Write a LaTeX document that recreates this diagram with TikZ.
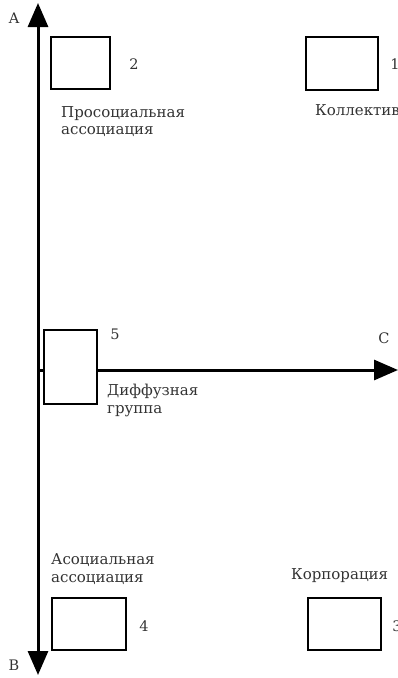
\documentclass[tikz,border=0pt]{standalone}
\usepackage{fontspec}
\setmainfont{DejaVu Serif}
\usetikzlibrary{arrows.meta}
\begin{document}
\begin{tikzpicture}[x=1pt,y=-1pt,
  axis/.style={line width=3pt,-{Triangle[width=20pt,length=24pt]}},
  groupbox/.style={draw,line width=1.8pt,minimum width=#1,inner sep=0pt},
  lbl/.style={font=\fontsize{15}{17.5}\selectfont,text=black!80,inner sep=0pt,align=left},
  num/.style={font=\fontsize{14.5}{16}\selectfont,text=black!80,inner sep=0pt}]
\useasboundingbox (0,0) rectangle (398,678);
% axes
\coordinate (top) at (38,3);
\coordinate (bot) at (38,675);
\coordinate (orig) at (38,370);
\coordinate (right) at (398,370);
\draw[axis] (orig) -- (top);
\draw[axis] (orig) -- (bot);
\draw[axis] (orig) -- (right);
\node[num] (A) at (14,18) {A};
\node[num] (B) at (14,665) {B};
\node[num] (C) at (384,338) {C};
% groups
\node[groupbox=59pt,minimum height=52pt] (b2) at (80.5,63) {};
\node[groupbox=72pt,minimum height=53pt] (b1) at (342,63.5) {};
\node[groupbox=53pt,minimum height=74pt,fill=white] (b5) at (70.5,367) {};
\node[groupbox=74pt,minimum height=52pt] (b4) at (89,624) {};
\node[groupbox=73pt,minimum height=52pt] (b3) at (344.5,624) {};
\node[num] (n2) at (134,64) {2};
\node[num] (n1) at (395,64) {1};
\node[num] (n5) at (115,334) {5};
\node[num] (n4) at (144,626) {4};
\node[num] (n3) at (397,626) {3};
\node[lbl,anchor=west] (t2) at (61,121.5) {Просоциальная\\ассоциация};
\node[lbl,anchor=west] (t1) at (315,110) {Коллектив};
\node[lbl,anchor=west] (t5) at (107,400.5) {Диффузная\\группа};
\node[lbl,anchor=west] (t4) at (51,569) {Асоциальная\\ассоциация};
\node[lbl,anchor=west] (t3) at (291,576) {Корпорация};
\end{tikzpicture}
\end{document}
